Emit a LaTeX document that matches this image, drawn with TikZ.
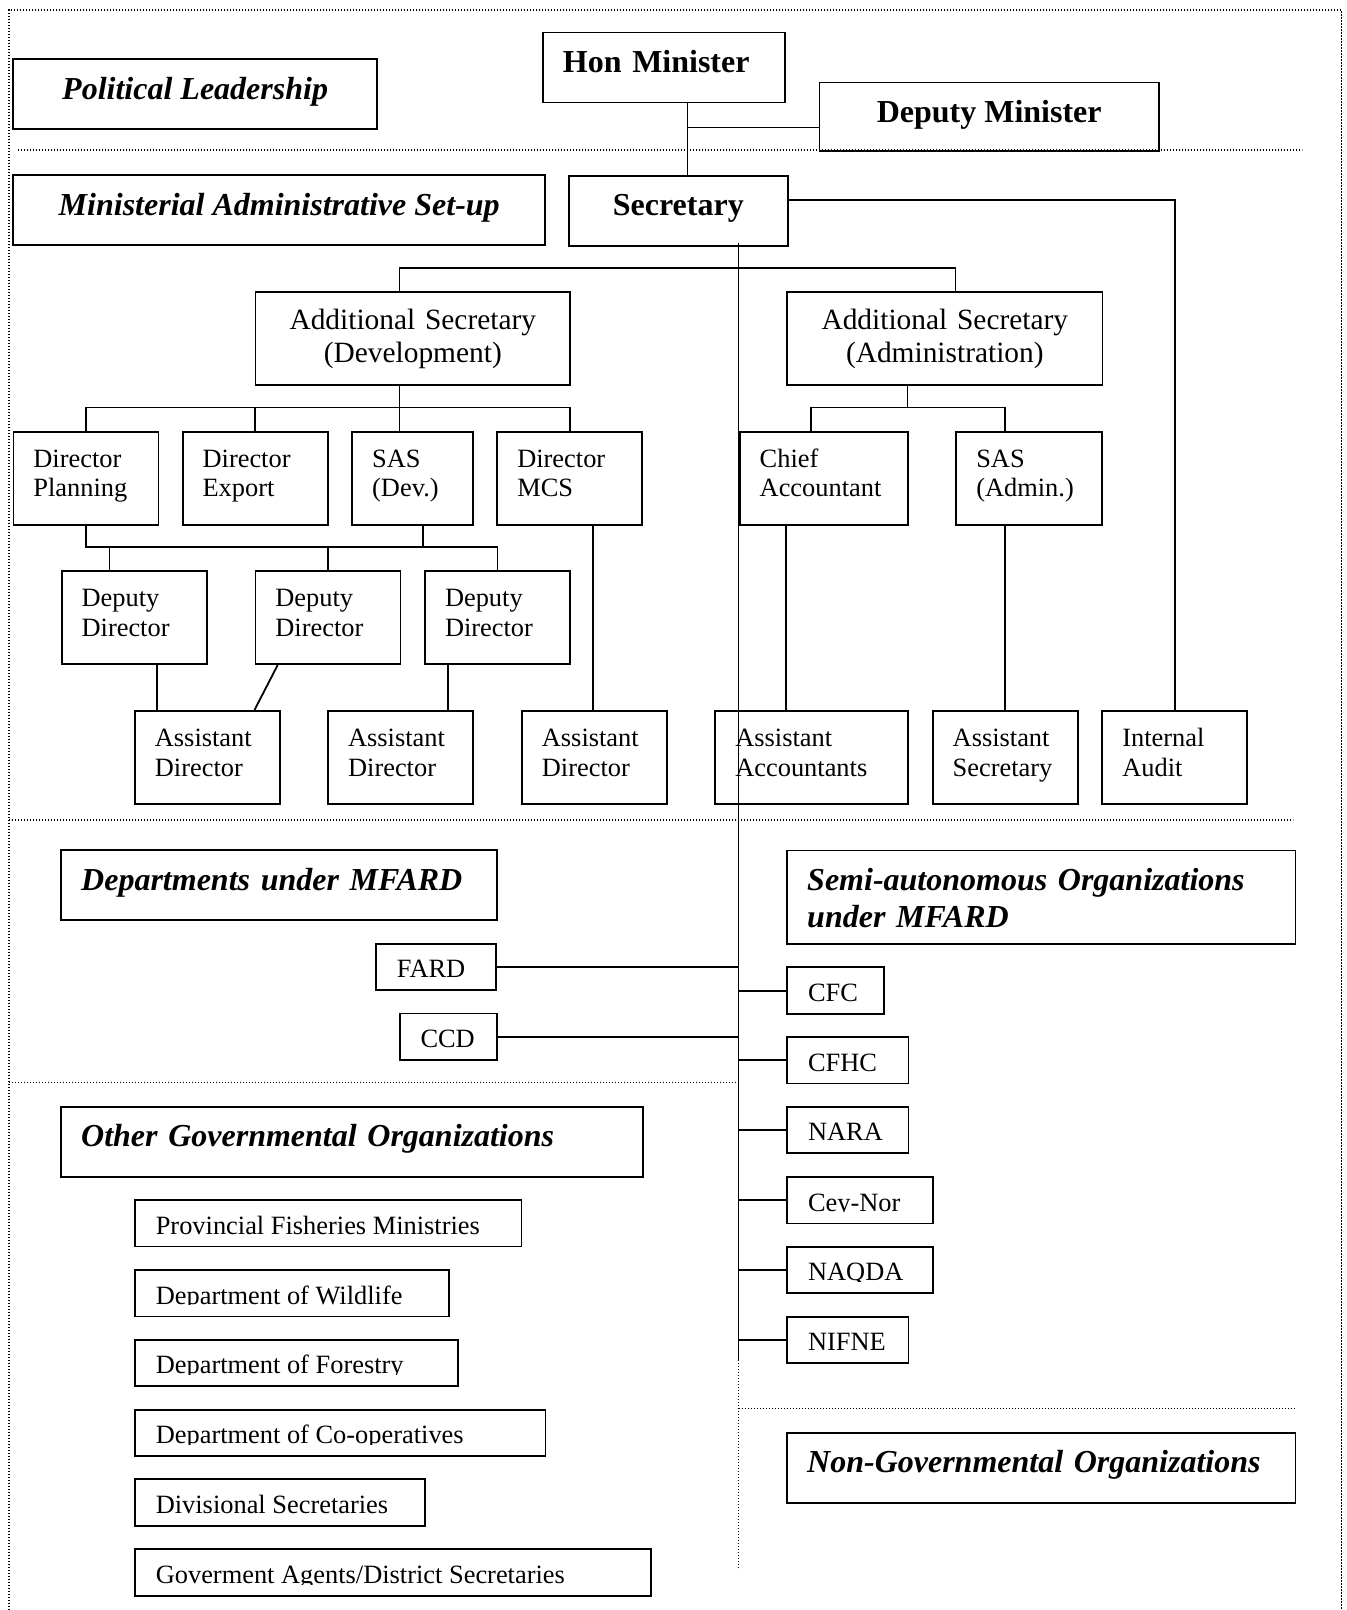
\documentclass[tikz,border=0pt]{standalone}
\usepackage{fontspec}
\setmainfont{Liberation Serif}
\newcommand\unitfont{\fontsize{13.2}{14.7}\selectfont}
\newcommand\asfont{\fontsize{14.7}{16.5}\selectfont}
\newcommand\headfont{\fontsize{16}{18.4}\selectfont\bfseries}
\tikzset{
  box/.style={draw, line width=0.9pt, inner sep=0pt, anchor=north west},
  boss/.style={box, font=\headfont, minimum width=#1, text height=20pt, text depth=15pt},
  head/.style={box, font=\headfont\itshape, minimum width=#1, text height=20pt, text depth=15pt},
  group/.style={box, font=\headfont\itshape, align=left, inner xsep=10pt, text width=#1, text height=20pt, text depth=15pt},
  asbox/.style={box, font=\asfont, align=center, text width=#1, text height=18.8pt, text depth=27.8pt},
  unit/.style={box, font=\unitfont, align=left, inner xsep=10pt, text width=#1, text height=17.9pt, text depth=28.7pt},
  cutbox/.style 2 args={box, minimum width=#1, minimum height=23.3pt,
    path picture={
      \clip (path picture bounding box.north west) rectangle ([yshift=5.9pt]path picture bounding box.south east);
      \node[draw=none, font=\unitfont, anchor=base west, inner sep=0pt, minimum size=0pt]
        at ([xshift=10pt,yshift=6.2pt]path picture bounding box.south west) {#2};}},
  link/.style={line width=0.9pt},
  sep/.style={line width=0.6pt, dash pattern=on 0.6pt off 0.9pt},
}
\begin{document}
\begin{tikzpicture}[x=0.5pt, y=-0.5pt]
  \useasboundingbox (0,0) rectangle (1346,1610);
  % frame and section separators
  \draw[sep] (9,1610) -- (9,10) -- (1341.5,10) -- (1341.5,1610);
  \draw[sep] (18,150) -- (1302,150);
  \draw[sep] (9,820) -- (1293,820);
  \draw[sep] (9,1082.5) -- (736.5,1082.5);
  \draw[sep] (738.5,1408.3) -- (1293.6,1408.3);

  % political leadership
  \node[head=181.9pt] (pl) at (12.3,58.3) {Political Leadership};
  \node[group=101pt, font=\headfont] (hm) at (542,31.7) {Hon Minister};
  \node[boss=169.8pt, text depth=14.2pt] (dm) at (818.5,81.7) {Deputy Minister};

  % ministerial set-up
  \node[head=266pt] (mas) at (12.3,174.5) {Ministerial Administrative Set-up};
  \node[boss=109.4pt] (sec) at (568,175) {Secretary};
  \node[asbox=157.4pt] (asdev) at (254.5,291) {Additional Secretary\\(Development)};
  \node[asbox=157.6pt] (asadm) at (786.3,291) {Additional Secretary\\(Administration)};

  \node[unit=52.5pt] (dplan) at (12.5,430.7) {Director\\Planning};
  \node[unit=52.5pt] (dexp) at (181.7,430.7) {Director\\Export};
  \node[unit=40.5pt] (sasdev) at (351.3,430.7) {SAS\\(Dev.)};
  \node[unit=52.5pt] (dmcs) at (496.4,430.7) {Director\\MCS};
  \node[unit=64.3pt] (chiefacc) at (738.8,430.7) {Chief\\Accountant};
  \node[unit=53pt] (sasadm) at (955.4,430.7) {SAS\\(Admin.)};

  \node[unit=52.8pt] (dd1) at (60.7,570) {Deputy\\Director};
  \node[unit=52.5pt] (dd2) at (254.5,570) {Deputy\\Director};
  \node[unit=52.5pt] (dd3) at (424.1,570) {Deputy\\Director};

  \node[unit=52.5pt] (ad1) at (134,710) {Assistant\\Director};
  \node[unit=52.5pt] (ad2) at (327.2,710) {Assistant\\Director};
  \node[unit=52.5pt] (ad3) at (521,710) {Assistant\\Director};
  \node[unit=76.5pt] (aacc) at (714.4,710) {Assistant\\Accountants};
  \node[unit=52.6pt] (asec) at (931.8,710) {Assistant\\Secretary};
  \node[unit=52.3pt] (audit) at (1101.4,710) {Internal\\Audit};

  % departments and semi-autonomous bodies
  \node[group=198pt] (deps) at (60.3,849.3) {Departments under MFARD};
  \node[group=234.1pt, text depth=26.7pt] (semi) at (786.3,849.6) {Semi-autonomous Organizations\\under MFARD};
  \node[cutbox={60.1pt}{FARD}] (fard) at (375,942.7) {};
  \node[cutbox={48.7pt}{CCD}] (ccd) at (398.7,1012.5) {};
  \node[cutbox={48.4pt}{CFC}] (cfc) at (786.3,966.4) {};
  \node[cutbox={60.6pt}{CFHC}] (cfhc) at (786.3,1036) {};
  \node[cutbox={60.6pt}{NARA}] (nara) at (786.3,1105.7) {};
  \node[cutbox={72.8pt}{Cey-Nor}] (ceynor) at (786.3,1176) {};
  \node[cutbox={72.8pt}{NAQDA}] (naqda) at (786.3,1245.7) {};
  \node[cutbox={60.6pt}{NIFNE}] (nifne) at (786.3,1315.7) {};

  % other organizations
  \node[group=270.9pt] (other) at (60.3,1105.7) {Other Governmental Organizations};
  \node[cutbox={193.3pt}{Provincial Fisheries Ministries}] (prov) at (134,1199) {};
  \node[cutbox={157.1pt}{Department of Wildlife}] (wild) at (134,1269) {};
  \node[cutbox={161.4pt}{Department of Forestry}] (forest) at (134,1338.7) {};
  \node[cutbox={205.3pt}{Department of Co-operatives}] (coop) at (134,1408.7) {};
  \node[cutbox={145pt}{Divisional Secretaries}] (divsec) at (134,1478.3) {};
  \node[cutbox={258pt}{Goverment Agents/District Secretaries}] (govag) at (134,1548.3) {};
  \node[group=234.1pt, text depth=15.3pt] (ngo) at (786.3,1431.7) {Non-Governmental Organizations};

  % junction points
  \coordinate (spine) at (687.5,0);
  \coordinate (dmjoin) at (688,127.5);
  \coordinate (trunktop) at (738.5,243);
  \coordinate (trunkend) at (738.5,1360);
  \coordinate (trunkfoot) at (738.5,1570);
  \coordinate (jdev) at (399.5,268.3);
  \coordinate (jadm) at (955.4,268.3);
  \coordinate (kdev) at (399.5,407.5);
  \coordinate (kadm) at (907.4,407.5);
  \coordinate (ldev) at (423.2,547);
  \coordinate (ldd) at (109.4,547);
  \coordinate (tapa) at (157.1,0);
  \coordinate (tapb) at (447.8,0);
  \coordinate (tapc) at (592.9,0);
  \coordinate (tapd) at (810.7,0);
  \coordinate (tape) at (786.3,0);
  \coordinate (tapf) at (277.7,0);
  \coordinate (tapg) at (254.5,0);

  % connectors
  \draw[link] (hm.south -| spine) -- (sec.north -| spine);
  \draw[link] (dmjoin) -- (dmjoin -| dm.west);
  \draw[link] ([yshift=5.5pt]sec.east) -| (audit.north);
  \draw[link] (trunktop) -- (trunkend);
  \draw[sep] (trunkend) -- (trunkfoot);
  \draw[link] (asdev.north -| jdev) -- (jdev) -- (jadm) -- (asadm.north -| jadm);

  \draw[link] (asdev.south -| kdev) -- (kdev);
  \draw[link] (dplan.north) |- (kdev) -| (dmcs.north);
  \draw[link] (dexp.north) -- (dexp.north |- kdev);
  \draw[link] (sasdev.north -| kdev) -- (kdev);

  \draw[link] (dplan.south) |- (dd3.north |- ldev) -- (dd3.north);
  \draw[link] (sasdev.south -| ldev) -- (ldev);
  \draw[link] (ldd) -- (dd1.north -| ldd);
  \draw[link] (dd2.north) -- (dd2.north |- ldev);

  \draw[link] (dd1.south -| tapa) -- (ad1.north -| tapa);
  \draw[link] (dd2.south -| tapf) -- (ad1.north -| tapg);
  \draw[link] (dd3.south -| tapb) -- (ad2.north -| tapb);
  \draw[link] (dmcs.south -| tapc) -- (ad3.north -| tapc);

  \draw[link] (asadm.south -| kadm) -- (kadm);
  \draw[link] (chiefacc.north -| tapd) |- (kadm) -| (sasadm.north -| asec.north);
  \draw[link] (chiefacc.south -| tape) -- (aacc.north -| tape);
  \draw[link] (sasadm.south -| asec.north) -- (asec.north);

  \foreach \n in {fard,ccd}
    \draw[link] (\n.east) -- (\n.east -| trunktop);
  \foreach \n in {cfc,cfhc,nara,ceynor,naqda,nifne}
    \draw[link] (\n.west -| trunktop) -- (\n.west);
\end{tikzpicture}
\end{document}
